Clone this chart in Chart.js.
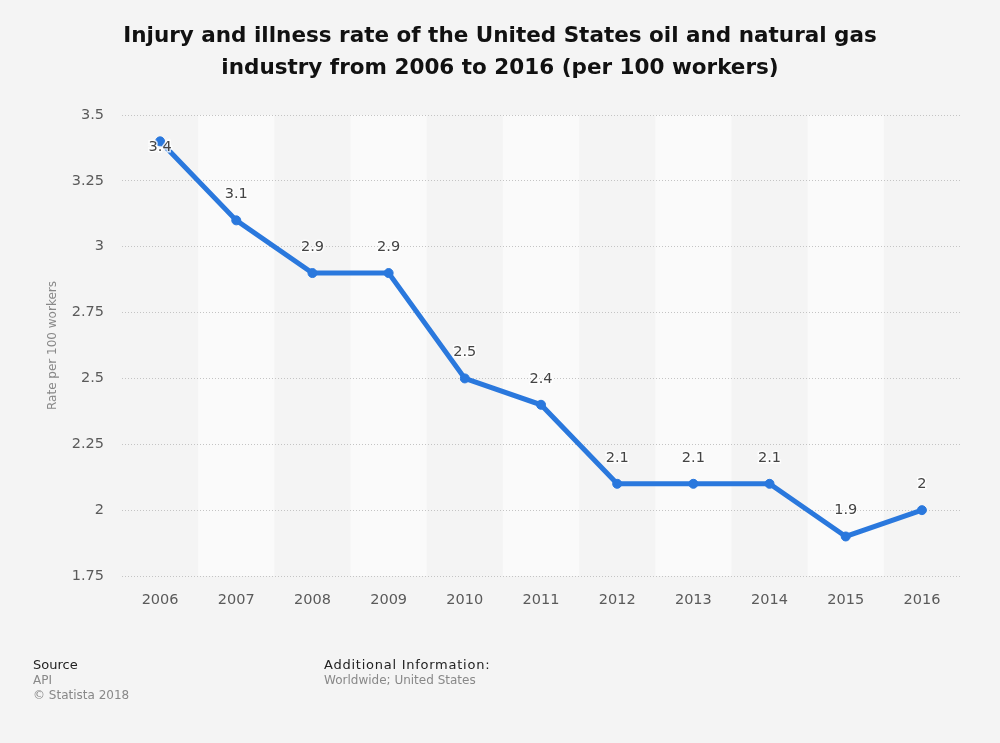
<!DOCTYPE html>
<html>
<head>
<meta charset="utf-8">
<script src="https://cdn.jsdelivr.net/npm/chart.js@4"></script>
<style>
  body { margin: 0; background: #f4f4f4; font-family: "DejaVu Sans", sans-serif; }
  #wrap { position: relative; width: 1000px; height: 743px; }
  #title { position: absolute; top: 19px; left: 0; width: 1000px; text-align: center;
           font-weight: bold; font-size: 21.5px; line-height: 32px; color: #111; }
  #chartBox { position: absolute; left: 0; top: 0; width: 1000px; height: 743px; }
  .foot { position: absolute; top: 657px; font-size: 13px; color: #222; line-height: 16px; }
  .foot span { display: block; font-size: 12px; color: #888; line-height: 15px; letter-spacing: 0; }
</style>
</head>
<body>
<div id="wrap">
  <div id="chartBox"><canvas id="chart"></canvas></div>
  <div id="title">Injury and illness rate of the United States oil and natural gas<br>industry from 2006 to 2016 (per 100 workers)</div>
  <div class="foot" style="left:33px">Source<span>API</span><span>© Statista 2018</span></div>
  <div class="foot" style="left:324px; letter-spacing:0.75px">Additional Information:<span>Worldwide; United States</span></div>
</div>
<script>
// chart data
const years = ['2006', '2007', '2008', '2009', '2010', '2011', '2012', '2013', '2014', '2015', '2016'];
const rates = [3.4, 3.1, 2.9, 2.9, 2.5, 2.4, 2.1, 2.1, 2.1, 1.9, 2];
const yMin = 1.75;
const yMax = 3.5;
const yStep = 0.25;

const lineColor = '#2a78dd';

// alternating column bands
const bandPlugin = {
    id: 'bands',
    beforeDraw(chart) {
        const { ctx, chartArea, scales } = chart;
        const half = (scales.x.getPixelForValue(1) - scales.x.getPixelForValue(0)) / 2;
        ctx.save();
        years.forEach((y, i) => {
            if (i % 2 === 0) return;
            const cx = scales.x.getPixelForValue(i);
            ctx.fillStyle = '#fafafa';
            ctx.fillRect(cx - half, chartArea.top, half * 2, chartArea.bottom - chartArea.top);
        });
        ctx.restore();
    }
};

// value labels above points
const labelPlugin = {
    id: 'valueLabels',
    afterDatasetsDraw(chart) {
        const { ctx, chartArea } = chart;
        const meta = chart.getDatasetMeta(0);
        ctx.save();
        ctx.font = '14.5px "DejaVu Sans"';
        ctx.textAlign = 'center';
        ctx.textBaseline = 'middle';
        meta.data.forEach((pt, i) => {
            let y = pt.y - 26;
            if (y < chartArea.top + 8) y = pt.y + 6;
            const txt = String(rates[i]);
            ctx.lineWidth = 3;
            ctx.strokeStyle = 'rgba(255,255,255,0.8)';
            ctx.strokeText(txt, pt.x, y);
            ctx.fillStyle = '#444';
            ctx.fillText(txt, pt.x, y);
        });
        ctx.restore();
    }
};

new Chart(document.getElementById('chart'), {
    type: 'line',
    data: {
        labels: years,
        datasets: [{
            data: rates,
            borderColor: lineColor,
            backgroundColor: lineColor,
            borderWidth: 5,
            pointRadius: 4.5,
            pointBorderWidth: 1,
            pointHoverRadius: 4.5,
            tension: 0
        }]
    },
    options: {
        responsive: true,
        maintainAspectRatio: false,
        animation: false,
        layout: { padding: { left: 42, right: 40, top: 115, bottom: 127 } },
        plugins: { legend: { display: false }, tooltip: { enabled: false } },
        scales: {
            x: {
                offset: true,
                grid: { display: false },
                border: { display: false },
                ticks: { color: '#5a5a5a', font: { family: 'DejaVu Sans', size: 14.5 }, padding: 8 },
                afterFit(scale) { scale.height = 40; }
            },
            y: {
                min: yMin,
                max: yMax,
                ticks: {
                    stepSize: yStep,
                    color: '#5a5a5a',
                    font: { family: 'DejaVu Sans', size: 14.5 },
                    padding: 18,
                    callback: v => String(+v.toFixed(2))
                },
                grid: { color: '#c4c4c4', drawTicks: false },
                border: { display: false, dash: [1, 2] },
                title: { display: true, text: 'Rate per 100 workers', color: '#888', font: { family: 'DejaVu Sans', size: 12 } },
                afterFit(scale) { scale.width = 80; }
            }
        }
    },
    plugins: [bandPlugin, labelPlugin]
});
</script>
</body>
</html>
